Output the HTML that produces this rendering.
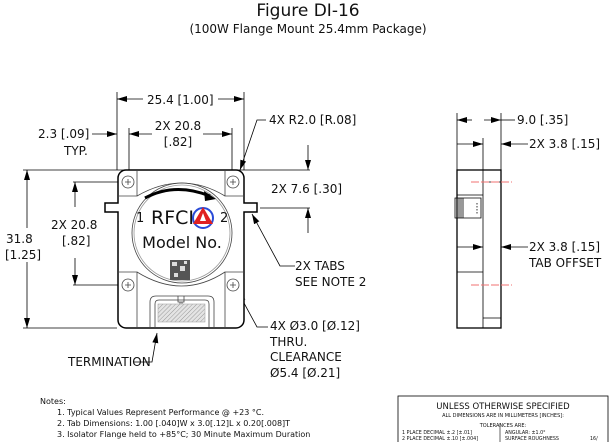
<!DOCTYPE html>
<html><head><meta charset="utf-8"><style>
html,body{margin:0;padding:0;background:#fff}
svg{display:block}
text{font-family:"DejaVu Sans","Liberation Sans",sans-serif;fill:#111}
</style></head><body>
<svg width="616" height="442" viewBox="0 0 616 442" xmlns="http://www.w3.org/2000/svg">
<defs>
<marker id="a" viewBox="0 0 10 6" refX="10" refY="3" markerWidth="10" markerHeight="6" orient="auto-start-reverse" markerUnits="userSpaceOnUse"><path d="M0,0L10,3L0,6z" fill="#000"/></marker>
<pattern id="h" width="3" height="3" patternUnits="userSpaceOnUse" patternTransform="rotate(45)"><rect width="3" height="3" fill="#e4e4e4"/><line x1="0" y1="0" x2="0" y2="3" stroke="#999" stroke-width="1"/></pattern>
</defs>
<text x="308" y="16" font-size="17" text-anchor="middle">Figure DI-16</text>
<text x="308" y="33" font-size="12" text-anchor="middle">(100W Flange Mount 25.4mm Package)</text>

<g stroke="#000" stroke-width="0.8" fill="none">
<line x1="117" y1="92" x2="117" y2="170"/><line x1="244" y1="92" x2="244" y2="170"/>
<line x1="129" y1="128" x2="129" y2="178"/><line x1="232" y1="128" x2="232" y2="178"/>
<line x1="117" y1="99" x2="143" y2="99" marker-start="url(#a)"/><line x1="218" y1="99" x2="244" y2="99" marker-end="url(#a)"/>
<line x1="129" y1="134" x2="152" y2="134" marker-start="url(#a)"/><line x1="203" y1="134" x2="232" y2="134" marker-end="url(#a)"/>
<line x1="92" y1="134" x2="117" y2="134" marker-end="url(#a)"/>
<line x1="23" y1="170" x2="310" y2="170"/>
<line x1="23" y1="328" x2="117" y2="328"/>
<line x1="73" y1="182" x2="120" y2="182"/><line x1="73" y1="285" x2="120" y2="285"/>
<line x1="27" y1="170" x2="27" y2="228" marker-start="url(#a)"/><line x1="27" y1="262" x2="27" y2="328" marker-end="url(#a)"/>
<line x1="75" y1="182" x2="75" y2="207" marker-start="url(#a)"/><line x1="75" y1="258" x2="75" y2="285" marker-end="url(#a)"/>
<line x1="260" y1="208" x2="310" y2="208"/>
<line x1="308" y1="145" x2="308" y2="170" marker-end="url(#a)"/><line x1="308" y1="233" x2="308" y2="208" marker-end="url(#a)"/>
<polyline points="266,120 257,120 240,170" marker-end="url(#a)"/>
<polyline points="295,266 280,266 252,214" marker-end="url(#a)"/>
<polyline points="268,327 257,327 238,292" marker-end="url(#a)"/>
<polyline points="134,362 152,362 157,333" marker-end="url(#a)"/>
</g>

<g stroke="#000" fill="none">
<path d="M126,170H236A8,8 0 0 1 244,178V203H257V212H244V320A8,8 0 0 1 236,328H126A8,8 0 0 1 118,320V212H105V203H118V178A8,8 0 0 1 126,170Z" stroke-width="1.5" fill="#fff"/>
<g stroke-width="0.8" stroke="#444">
<path d="M118,196H137V170M244,196H225V170M118,272H137V328M244,272H225V328"/>
<path d="M137,196Q182,170 225,196M137,272Q182,300 225,272"/>
<circle cx="182" cy="233" r="50"/>
<circle cx="182" cy="233" r="48" stroke="#999"/>
<circle cx="128" cy="182" r="6"/><circle cx="233" cy="182" r="6"/>
<circle cx="128" cy="285" r="6"/><circle cx="233" cy="285" r="6"/>
<path d="M125,182h6M128,179v6M230,182h6M233,179v6M125,285h6M128,282v6M230,285h6M233,282v6"/>
<path d="M150,328V302Q150,296 156,296H208Q214,296 214,302V328"/>
<path d="M155,328V304Q155,300 159,300H205Q209,300 209,304V328"/>
<path d="M178,296v6h6v-6M180,302v4h2v-4"/>
</g>
<rect x="158" y="304" width="47" height="18" fill="url(#h)" stroke="#aaa" stroke-width="0.6"/>
<path d="M145,198Q175,182 210,196" stroke-width="3"/>
</g>
<path d="M216,199L204,191L205,201Z" fill="#000"/>
<text x="136" y="222" font-size="13">1</text>
<text x="220" y="222" font-size="13">2</text>
<text x="151" y="224" font-size="19" font-family="Liberation Sans,sans-serif">RFCI</text>
<circle cx="203" cy="218" r="10" fill="none" stroke="#2a4bd7" stroke-width="2"/>
<path d="M203,207L213,224L193,224Z" fill="#e02020"/>
<path d="M203,213L206,221L200,221Z" fill="#fff"/>
<text x="182" y="248" font-size="16" text-anchor="middle">Model No.</text>
<rect x="170" y="260" width="20" height="20" fill="#555"/>
<rect x="172" y="262" width="5" height="4" fill="#ddd"/><rect x="180" y="266" width="5" height="5" fill="#ddd"/><rect x="174" y="273" width="4" height="4" fill="#ddd"/><rect x="184" y="261" width="3" height="3" fill="#ddd"/>

<g stroke="#000" stroke-width="0.8" fill="none">
<line x1="457" y1="113" x2="457" y2="170"/><line x1="501" y1="113" x2="501" y2="170"/><line x1="483" y1="138" x2="483" y2="170"/>
<line x1="457" y1="120" x2="472" y2="120" marker-start="url(#a)"/><line x1="484" y1="120" x2="501" y2="120" marker-end="url(#a)"/>
<line x1="501" y1="120" x2="515" y2="120"/>
<line x1="457" y1="144" x2="483" y2="144" marker-end="url(#a)"/>
<line x1="528" y1="144" x2="501" y2="144" marker-end="url(#a)"/>
<rect x="457" y="170" width="44" height="158" stroke-width="1.3"/>
<path d="M483,170V328M483,182H501M483,318H501M457,195H483V170M457,272H483"/>
<path d="M457,198H455V218H457M459,198V218M461,198V218M463,198V218M457,198H481V218H457"/>
<line x1="477" y1="203" x2="477" y2="214" stroke-dasharray="1.5,1.5"/>
<line x1="457" y1="247" x2="483" y2="247" marker-end="url(#a)"/>
<line x1="528" y1="247" x2="501" y2="247" marker-end="url(#a)"/>
</g>
<line x1="471" y1="182" x2="512" y2="182" stroke="#f07070" stroke-width="1" stroke-dasharray="8,2"/>
<line x1="471" y1="285" x2="512" y2="285" stroke="#f07070" stroke-width="1" stroke-dasharray="8,2"/>

<g font-size="12">
<text x="147" y="104">25.4 [1.00]</text>
<text x="178" y="130" text-anchor="middle">2X 20.8</text>
<text x="178" y="146" text-anchor="middle">[.82]</text>
<text x="38" y="138">2.3 [.09]</text>
<text x="64" y="155">TYP.</text>
<text x="269" y="124">4X R2.0 [R.08]</text>
<text x="271" y="193">2X 7.6 [.30]</text>
<text x="295" y="270">2X TABS</text>
<text x="295" y="286">SEE NOTE 2</text>
<text x="270" y="330">4X Ø3.0 [Ø.12]</text>
<text x="270" y="346">THRU.</text>
<text x="270" y="361">CLEARANCE</text>
<text x="270" y="377">Ø5.4 [Ø.21]</text>
<text x="68" y="366">TERMINATION</text>
<text x="6" y="243">31.8</text>
<text x="5" y="259">[1.25]</text>
<text x="51" y="229">2X 20.8</text>
<text x="62" y="245">[.82]</text>
<text x="517" y="124">9.0 [.35]</text>
<text x="529" y="148">2X 3.8 [.15]</text>
<text x="529" y="251">2X 3.8 [.15]</text>
<text x="529" y="267">TAB OFFSET</text>
</g>

<g font-size="8">
<text x="40" y="404">Notes:</text>
<text x="57" y="415">1. Typical Values Represent Performance @ +23 °C.</text>
<text x="57" y="426">2. Tab Dimensions: 1.00 [.040]W x 3.0[.12]L x 0.20[.008]T</text>
<text x="57" y="437">3. Isolator Flange held to +85°C; 30 Minute Maximum Duration</text>
</g>
<rect x="398" y="396" width="210" height="50" fill="none" stroke="#000" stroke-width="0.8"/>
<line x1="500" y1="423" x2="500" y2="442" stroke="#000" stroke-width="0.6"/>
<text x="503" y="409" font-size="8.5" text-anchor="middle">UNLESS OTHERWISE SPECIFIED</text>
<text x="503" y="417" font-size="5" text-anchor="middle">ALL DIMENSIONS ARE IN MILLIMETERS [INCHES]:</text>
<text x="503" y="427" font-size="5" text-anchor="middle">TOLERANCES ARE:</text>
<g font-size="4.8">
<text x="402" y="434">1 PLACE DECIMAL   ±.2  [±.01]</text>
<text x="402" y="440">2 PLACE DECIMAL   ±.10 [±.004]</text>
<text x="505" y="434">ANGULAR:  ±1.0°</text>
<text x="505" y="440">SURFACE ROUGHNESS</text>
<text x="590" y="440">16/</text>
</g>
</svg>
</body></html>
